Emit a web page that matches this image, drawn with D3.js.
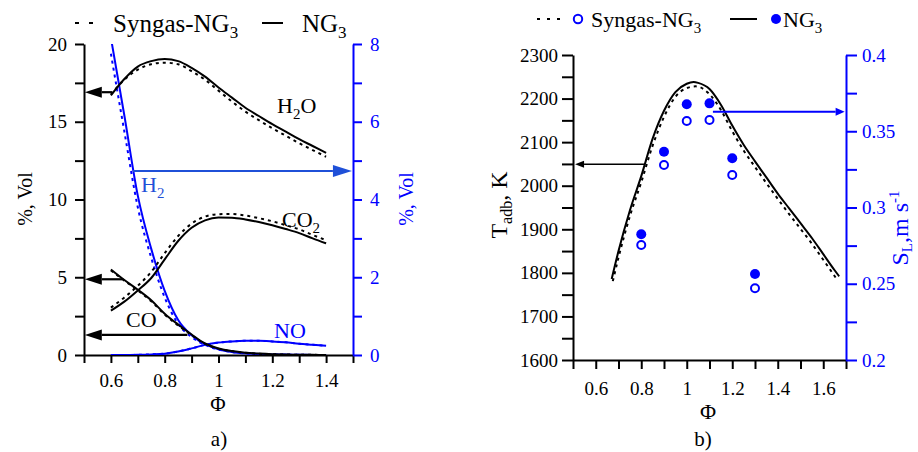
<!DOCTYPE html>
<html>
<head>
<meta charset="utf-8">
<script src="https://cdn.jsdelivr.net/npm/d3@7"></script>
<style>
  body { margin: 0; background: #fff; }
  svg, svg text { font-family: "Liberation Serif", "Times New Roman", serif; }
</style>
</head>
<body>
<svg id="chart" width="918" height="452"></svg>
<script>
// ---- panel a) species, % vol vs equivalence ratio
const phiA = [0.6, 0.65, 0.7, 0.75, 0.8, 0.85, 0.9, 0.95, 1.0, 1.05, 1.1, 1.15, 1.2, 1.25, 1.3, 1.35, 1.4];
const h2oNG  = [16.7, 17.75, 18.55, 18.9, 19.03, 18.9, 18.47, 17.9, 17.2, 16.55, 15.9, 15.37, 14.85, 14.37, 13.88, 13.44, 13.0];
const h2oSyn = [16.75, 17.7, 18.35, 18.7, 18.8, 18.7, 18.25, 17.7, 17.0, 16.3, 15.65, 15.1, 14.58, 14.1, 13.62, 13.18, 12.75];
const co2NG  = [2.85, 3.43, 4.15, 4.95, 6.15, 7.33, 8.18, 8.66, 8.84, 8.83, 8.72, 8.55, 8.34, 8.1, 7.84, 7.5, 7.18];
const co2Syn = [3.05, 3.7, 4.45, 5.35, 6.55, 7.65, 8.45, 8.9, 9.05, 9.07, 8.97, 8.8, 8.6, 8.35, 8.08, 7.72, 7.38];
const coNG   = [5.5, 4.82, 4.2, 3.52, 2.66, 1.96, 1.32, 0.74, 0.42, 0.25, 0.15, 0.09, 0.05, 0.03, 0.015, 0.01, 0.005];
const coSyn  = [5.45, 4.78, 4.15, 3.46, 2.6, 1.9, 1.28, 0.72, 0.41, 0.24, 0.14, 0.08, 0.05, 0.03, 0.015, 0.01, 0.005];
// right axis (blue)
const h2NG   = [8.16, 6.16, 4.1, 2.73, 1.65, 0.9, 0.51, 0.28, 0.15, 0.08, 0.045, 0.025, 0.015, 0.01, 0.005, 0.003, 0.0];
const h2Syn  = [7.75, 5.75, 3.8, 2.5, 1.48, 0.8, 0.46, 0.26, 0.14, 0.075, 0.04, 0.022, 0.013, 0.008, 0.004, 0.002, 0.0];
const noNG   = [0, 0, 0.005, 0.015, 0.035, 0.09, 0.17, 0.26, 0.32, 0.35, 0.365, 0.365, 0.35, 0.325, 0.29, 0.265, 0.24];
const noSyn  = [0, 0, 0.005, 0.015, 0.035, 0.09, 0.17, 0.26, 0.32, 0.35, 0.365, 0.365, 0.35, 0.325, 0.29, 0.265, 0.24];

// ---- panel b) adiabatic temperature and laminar flame speed
const phiT_NG  = [0.67, 0.7, 0.75, 0.8, 0.85, 0.9, 0.95, 1.0, 1.03, 1.05, 1.1, 1.15, 1.2, 1.25, 1.3, 1.35, 1.4, 1.45, 1.5, 1.55, 1.6, 1.65, 1.67];
const tadbNG   = [1786, 1850, 1943, 2022, 2108, 2172, 2215, 2234, 2238, 2236, 2222, 2186, 2138, 2094, 2056, 2019, 1982, 1948, 1914, 1880, 1843, 1806, 1792];
const phiT_Syn = [0.675, 0.7, 0.75, 0.8, 0.85, 0.9, 0.95, 1.0, 1.04, 1.1, 1.15, 1.2, 1.25, 1.3, 1.35, 1.4, 1.45, 1.5, 1.55, 1.6, 1.66];
const tadbSyn  = [1781, 1835, 1930, 2008, 2092, 2158, 2204, 2224, 2228, 2210, 2174, 2125, 2081, 2043, 2006, 1970, 1935, 1901, 1867, 1830, 1785];
const phiSL  = [0.8, 0.9, 1.0, 1.1, 1.2, 1.3];
const slNG   = [0.2825, 0.3365, 0.3677, 0.3683, 0.3323, 0.2564];
const slSyn  = [0.2754, 0.3279, 0.3567, 0.3574, 0.3213, 0.247];

const BLUE = "#0000ff";
const ARROW_BLUE = "#1f50d8";
const DASH = "3,4";
const FONT = "'Liberation Serif', 'Times New Roman', serif";

const svg = d3.select("#chart");
svg.append("rect").attr("width", 918).attr("height", 452).attr("fill", "#fff");

// scales
const xA = d3.scaleLinear().domain([0.5, 1.5]).range([84, 353]);
const yA = d3.scaleLinear().domain([0, 20]).range([355, 44]);
const yA2 = d3.scaleLinear().domain([0, 8]).range([355, 44]);
const xB = d3.scaleLinear().domain([0.5, 1.7]).range([573, 846]);
const yB = d3.scaleLinear().domain([1600, 2300]).range([360, 55]);
const yB2 = d3.scaleLinear().domain([0.2, 0.4]).range([360, 55]);

const defs = svg.append("defs");
defs.append("clipPath").attr("id", "clipA").append("rect")
    .attr("x", 84).attr("y", 44).attr("width", 269).attr("height", 311);
defs.append("clipPath").attr("id", "clipB").append("rect")
    .attr("x", 573).attr("y", 55).attr("width", 273).attr("height", 305);

function styleAxis(g, color, size) {
    g.attr("font-family", FONT).attr("font-size", size);
    g.select(".domain").attr("stroke", color).attr("stroke-width", 2);
    g.selectAll(".tick line").attr("stroke", color).attr("stroke-width", 2);
    g.selectAll(".tick text").attr("fill", color)
        .attr("font-family", FONT).attr("font-size", size);
}

function fmtPhi(d) {
    const k = Math.round(d * 10);
    return (k % 2 === 0) ? String(+d.toFixed(1)) : "";
}

function drawLine(g, xs, ys, xScale, yScale, color, dashed) {
    const line = d3.line().x((d, i) => xScale(xs[i])).y(d => yScale(d)).curve(d3.curveMonotoneX);
    g.append("path")
        .attr("d", line(ys))
        .attr("fill", "none")
        .attr("stroke", color)
        .attr("stroke-width", 2)
        .attr("stroke-dasharray", dashed ? DASH : null);
}

function arrow(g, x1, y1, x2, y2, color, width, headLen, headHalf) {
    const ang = Math.atan2(y2 - y1, x2 - x1);
    const bx = x2 - headLen * Math.cos(ang), by = y2 - headLen * Math.sin(ang);
    g.append("line").attr("x1", x1).attr("y1", y1).attr("x2", bx).attr("y2", by)
        .attr("stroke", color).attr("stroke-width", width);
    const px = -Math.sin(ang) * headHalf, py = Math.cos(ang) * headHalf;
    g.append("polygon")
        .attr("points", [[x2, y2], [bx + px, by + py], [bx - px, by - py]].map(p => p.join(",")).join(" "))
        .attr("fill", color);
}

function chemLabel(g, x, y, main, sub, tail, color, size) {
    const t = g.append("text").attr("x", x).attr("y", y).attr("fill", color)
        .attr("font-family", FONT).attr("font-size", size);
    t.append("tspan").text(main);
    if (sub) t.append("tspan").attr("dy", size * 0.25).attr("font-size", size * 0.68).text(sub);
    if (tail) t.append("tspan").attr("dy", -size * 0.25).text(tail);
    return t;
}

// ================= panel a =================
const gA = svg.append("g");

gA.append("g").attr("transform", "translate(0,355)")
    .call(d3.axisBottom(xA).tickValues(d3.range(0.5, 1.501, 0.1)).tickSize(8).tickSizeOuter(0).tickPadding(11).tickFormat(fmtPhi))
    .call(g => styleAxis(g, "#000", 19));
gA.append("g").attr("transform", "translate(84,0)")
    .call(d3.axisLeft(yA).tickValues(d3.range(0, 20.01, 2.5)).tickSize(9).tickSizeOuter(0).tickPadding(8)
        .tickFormat(d => d % 5 === 0 ? d : ""))
    .call(g => styleAxis(g, "#000", 19));
gA.append("g").attr("transform", "translate(353,0)")
    .call(d3.axisRight(yA2).tickValues(d3.range(0, 8.01, 1)).tickSize(9).tickSizeOuter(0).tickPadding(8)
        .tickFormat(d => d % 2 === 0 ? d : ""))
    .call(g => styleAxis(g, BLUE, 19));

const curvesA = gA.append("g").attr("clip-path", "url(#clipA)");
drawLine(curvesA, phiA, noSyn, xA, yA2, BLUE, true);
drawLine(curvesA, phiA, noNG, xA, yA2, BLUE, false);
drawLine(curvesA, phiA, h2Syn, xA, yA2, BLUE, true);
drawLine(curvesA, phiA, h2NG, xA, yA2, BLUE, false);
drawLine(curvesA, phiA, h2oSyn, xA, yA, "#000", true);
drawLine(curvesA, phiA, h2oNG, xA, yA, "#000", false);
drawLine(curvesA, phiA, co2Syn, xA, yA, "#000", true);
drawLine(curvesA, phiA, co2NG, xA, yA, "#000", false);
drawLine(curvesA, phiA, coSyn, xA, yA, "#000", true);
drawLine(curvesA, phiA, coNG, xA, yA, "#000", false);

// annotation arrows (data coords)
arrow(gA, xA(0.605), yA(16.9), xA(0.503), yA(16.9), "#000", 2.2, 17, 5.5);
arrow(gA, xA(0.642), yA(4.87), xA(0.503), yA(4.87), "#000", 2.2, 17, 5.5);
arrow(gA, xA(0.884), yA(1.29), xA(0.503), yA(1.29), "#000", 2.2, 17, 5.5);
arrow(gA, xA(0.682), yA2(4.73), xA(1.496), yA2(4.73), ARROW_BLUE, 2, 19, 6);

chemLabel(gA, 277, 113, "H", "2", "O", "#000", 22);
chemLabel(gA, 282, 227, "CO", "2", null, "#000", 22);
chemLabel(gA, 126, 327, "CO", null, null, "#000", 22);
chemLabel(gA, 274, 338, "NO", null, null, BLUE, 22);
chemLabel(gA, 141, 192, "H", "2", null, ARROW_BLUE, 22);

gA.append("text").attr("transform", "translate(32,199) rotate(-90)").attr("text-anchor", "middle")
    .attr("font-size", 20).text("%, Vol");
gA.append("text").attr("transform", "translate(413,199) rotate(-90)").attr("text-anchor", "middle")
    .attr("fill", BLUE).attr("font-size", 20).text("%, Vol");
gA.append("text").attr("x", 218).attr("y", 411).attr("text-anchor", "middle").attr("font-size", 21).text("Φ");
gA.append("text").attr("x", 219).attr("y", 446).attr("text-anchor", "middle").attr("font-size", 21).text("a)");

// legend a
const legA = gA.append("g");
legA.append("line").attr("x1", 75).attr("x2", 97).attr("y1", 23).attr("y2", 23)
    .attr("stroke", "#000").attr("stroke-width", 2).attr("stroke-dasharray", "4,10");
legA.append("line").attr("x1", 262).attr("x2", 283).attr("y1", 23).attr("y2", 23)
    .attr("stroke", "#000").attr("stroke-width", 2);
chemLabel(legA, 113, 32, "Syngas-NG", "3", null, "#000", 25);
chemLabel(legA, 302, 32, "NG", "3", null, "#000", 25);

// ================= panel b =================
const gB = svg.append("g");

gB.append("g").attr("transform", "translate(0,360)")
    .call(d3.axisBottom(xB).tickValues(d3.range(0.5, 1.701, 0.1)).tickSize(9).tickSizeOuter(0).tickPadding(13).tickFormat(fmtPhi))
    .call(g => styleAxis(g, "#000", 19));
gB.append("g").attr("transform", "translate(573,0)")
    .call(d3.axisLeft(yB).tickValues(d3.range(1600, 2300.1, 50)).tickSize(11).tickSizeOuter(0).tickPadding(4)
        .tickFormat(d => d % 100 === 0 ? d : ""))
    .call(g => styleAxis(g, "#000", 19));
gB.append("g").attr("transform", "translate(846,0)")
    .call(d3.axisRight(yB2).tickValues(d3.range(0.2, 0.4001, 0.025)).tickSize(11).tickSizeOuter(0).tickPadding(5)
        .tickFormat(d => Math.abs(d * 20 - Math.round(d * 20)) < 1e-6 ? String(+d.toFixed(2)) : ""))
    .call(g => styleAxis(g, BLUE, 19));

const curvesB = gB.append("g").attr("clip-path", "url(#clipB)");
drawLine(curvesB, phiT_Syn, tadbSyn, xB, yB, "#000", true);
drawLine(curvesB, phiT_NG, tadbNG, xB, yB, "#000", false);

curvesB.selectAll("circle.ng").data(slNG).join("circle").attr("class", "ng")
    .attr("cx", (d, i) => xB(phiSL[i])).attr("cy", d => yB2(d)).attr("r", 5).attr("fill", BLUE);
curvesB.selectAll("circle.syn").data(slSyn).join("circle").attr("class", "syn")
    .attr("cx", (d, i) => xB(phiSL[i])).attr("cy", d => yB2(d)).attr("r", 4)
    .attr("fill", "#fff").attr("stroke", BLUE).attr("stroke-width", 2);

arrow(gB, xB(0.816), yB(2049), xB(0.509), yB(2049), "#000", 1.5, 9, 3.5);
arrow(gB, xB(1.115), yB2(0.3628), xB(1.694), yB2(0.3628), BLUE, 2, 9, 4);

const tl = gB.append("text").attr("transform", "translate(507,205) rotate(-90)").attr("text-anchor", "middle")
    .attr("font-size", 24);
tl.append("tspan").text("T");
tl.append("tspan").attr("dy", 5).attr("font-size", 16).text("adb");
tl.append("tspan").attr("dy", -5).text(", K");

const sl = gB.append("text").attr("transform", "translate(908,228) rotate(-90)").attr("text-anchor", "middle")
    .attr("fill", BLUE).attr("font-size", 24);
sl.append("tspan").text("S");
sl.append("tspan").attr("dy", 4).attr("font-size", 15).text("L");
sl.append("tspan").attr("dy", -4).text(",m s");
sl.append("tspan").attr("dy", -9).attr("font-size", 15).text("-1");

gB.append("text").attr("x", 708).attr("y", 419).attr("text-anchor", "middle").attr("font-size", 22).text("Φ");
gB.append("text").attr("x", 703).attr("y", 446).attr("text-anchor", "middle").attr("font-size", 21).text("b)");

// legend b
const legB = gB.append("g");
legB.append("line").attr("x1", 537).attr("x2", 562).attr("y1", 19).attr("y2", 19)
    .attr("stroke", "#000").attr("stroke-width", 2).attr("stroke-dasharray", "3,7");
legB.append("circle").attr("cx", 578).attr("cy", 19).attr("r", 4.2)
    .attr("fill", "#fff").attr("stroke", BLUE).attr("stroke-width", 2);
chemLabel(legB, 591, 27, "Syngas-NG", "3", null, "#000", 22);
legB.append("line").attr("x1", 730).attr("x2", 757).attr("y1", 19).attr("y2", 19)
    .attr("stroke", "#000").attr("stroke-width", 2);
legB.append("circle").attr("cx", 776).attr("cy", 19).attr("r", 5).attr("fill", BLUE);
chemLabel(legB, 783, 27, "NG", "3", null, "#000", 22);
</script>
</body>
</html>
